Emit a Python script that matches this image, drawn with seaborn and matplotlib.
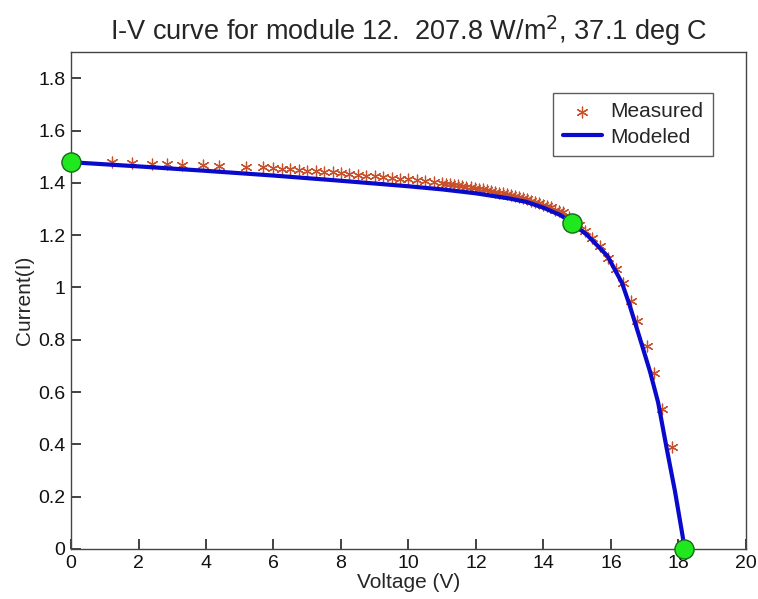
import numpy as np
import pandas as pd
import matplotlib
matplotlib.use("Agg")
import matplotlib.pyplot as plt
import seaborn as sns

# measured I-V points
meas_v = [0.0, 1.2, 1.8, 2.4, 2.85, 3.3, 3.9, 4.4, 5.2, 5.7,
          6.0, 6.25, 6.5, 6.75, 7.0, 7.25, 7.5, 7.75, 8.0, 8.25,
          8.5, 8.75, 9.0, 9.25, 9.5, 9.75, 10.0, 10.25, 10.5, 10.75,
          11.0, 11.12, 11.24, 11.36, 11.48, 11.6, 11.72, 11.84, 11.96, 12.08,
          12.2, 12.32, 12.44, 12.56, 12.68, 12.8, 12.92, 13.04, 13.16, 13.28,
          13.4, 13.52, 13.64, 13.76, 13.88, 14.0, 14.1, 14.22, 14.34, 14.46,
          14.58, 14.75, 14.9, 15.05, 15.23, 15.44, 15.67, 15.91, 16.15, 16.36,
          16.59, 16.77, 17.07, 17.27, 17.51, 17.81, 18.15]
meas_i = [1.480, 1.478, 1.476, 1.474, 1.472, 1.470, 1.468, 1.466, 1.462, 1.459,
          1.456, 1.454, 1.452, 1.450, 1.447, 1.445, 1.442, 1.440, 1.437, 1.434,
          1.431, 1.428, 1.425, 1.422, 1.419, 1.416, 1.413, 1.410, 1.406, 1.402,
          1.398, 1.396, 1.394, 1.392, 1.390, 1.388, 1.385, 1.383, 1.380, 1.378,
          1.375, 1.372, 1.369, 1.366, 1.363, 1.360, 1.357, 1.353, 1.349, 1.345,
          1.341, 1.337, 1.332, 1.327, 1.322, 1.317, 1.313, 1.306, 1.298, 1.292,
          1.287, 1.268, 1.252, 1.240, 1.217, 1.190, 1.160, 1.113, 1.071, 1.017,
          0.948, 0.871, 0.778, 0.674, 0.535, 0.389, 0.010]

# modeled curve
model_v = [0.0, 2.0, 4.0, 6.0, 8.0, 10.0, 11.0, 12.0, 13.0, 13.5,
           14.0, 14.5, 14.84, 15.3, 15.9, 16.33, 16.56, 16.86, 17.16, 17.4,
           17.66, 17.9, 18.13, 18.18]
model_i = [1.479, 1.463, 1.446, 1.428, 1.408, 1.387, 1.375, 1.360, 1.340, 1.327,
           1.305, 1.277, 1.248, 1.200, 1.120, 1.017, 0.930, 0.805, 0.678, 0.560,
           0.380, 0.220, 0.046, 0.0]

# key points: Isc, max power point, Voc
key_v = [0.0, 14.84, 18.18]
key_i = [1.479, 1.248, 0.0]

x_ticks = [0, 2, 4, 6, 8, 10, 12, 14, 16, 18, 20]
y_ticks = [0, 0.2, 0.4, 0.6, 0.8, 1, 1.2, 1.4, 1.6, 1.8]
y_labels = ['0', '0.2', '0.4', '0.6', '0.8', '1', '1.2', '1.4', '1.6', '1.8']

sns.set_style("ticks")
plt.rcParams['font.family'] = ['Liberation Sans', 'DejaVu Sans']

fig = plt.figure(figsize=(7.58, 5.99), dpi=100)
ax = fig.add_axes([0.0937, 0.0835, 0.8903, 0.8295])

sns.scatterplot(x=meas_v, y=meas_i, marker=(6, 2, 0), s=60, color='#C8512B',
                linewidth=0.9, label='Measured', ax=ax, zorder=2)
sns.lineplot(x=model_v, y=model_i, sort=False, color='#0A0ACD', linewidth=3,
             label='Modeled', ax=ax, zorder=3)
sns.scatterplot(x=key_v, y=key_i, s=190, color='#1FE81F', edgecolor='#156B15',
                linewidth=1.0, ax=ax, zorder=4, clip_on=False, legend=False)

ax.set_xlim(0, 20)
ax.set_ylim(0, 1.9)
ax.set_xticks(x_ticks)
ax.set_yticks(y_ticks)
ax.set_yticklabels(y_labels)
ax.tick_params(axis='both', which='major', direction='in', length=7, width=1.2,
               labelsize=14, color='#222222', labelcolor='#111111', pad=4)

for s in ax.spines.values():
    s.set_visible(True)
    s.set_color('#444444')
    s.set_linewidth(1.0)

ax.set_xlabel('Voltage (V)', fontsize=15, labelpad=1)
ax.set_ylabel('Current(I)', fontsize=15, labelpad=3)
ax.set_title('I-V curve for module 12.  207.8 W/m$^2$, 37.1 deg C', fontsize=19.5, pad=9)

leg = ax.legend(loc='upper right', bbox_to_anchor=(0.9406, 0.8447),
                bbox_transform=fig.transFigure, borderaxespad=0, fontsize=15,
                frameon=True, fancybox=False, edgecolor='#333333', handlelength=1.9,
                handletextpad=0.4, borderpad=0.45, labelspacing=0.3)
leg.get_frame().set_linewidth(1.0)

fig.savefig('out.png', dpi=100, facecolor='white')
